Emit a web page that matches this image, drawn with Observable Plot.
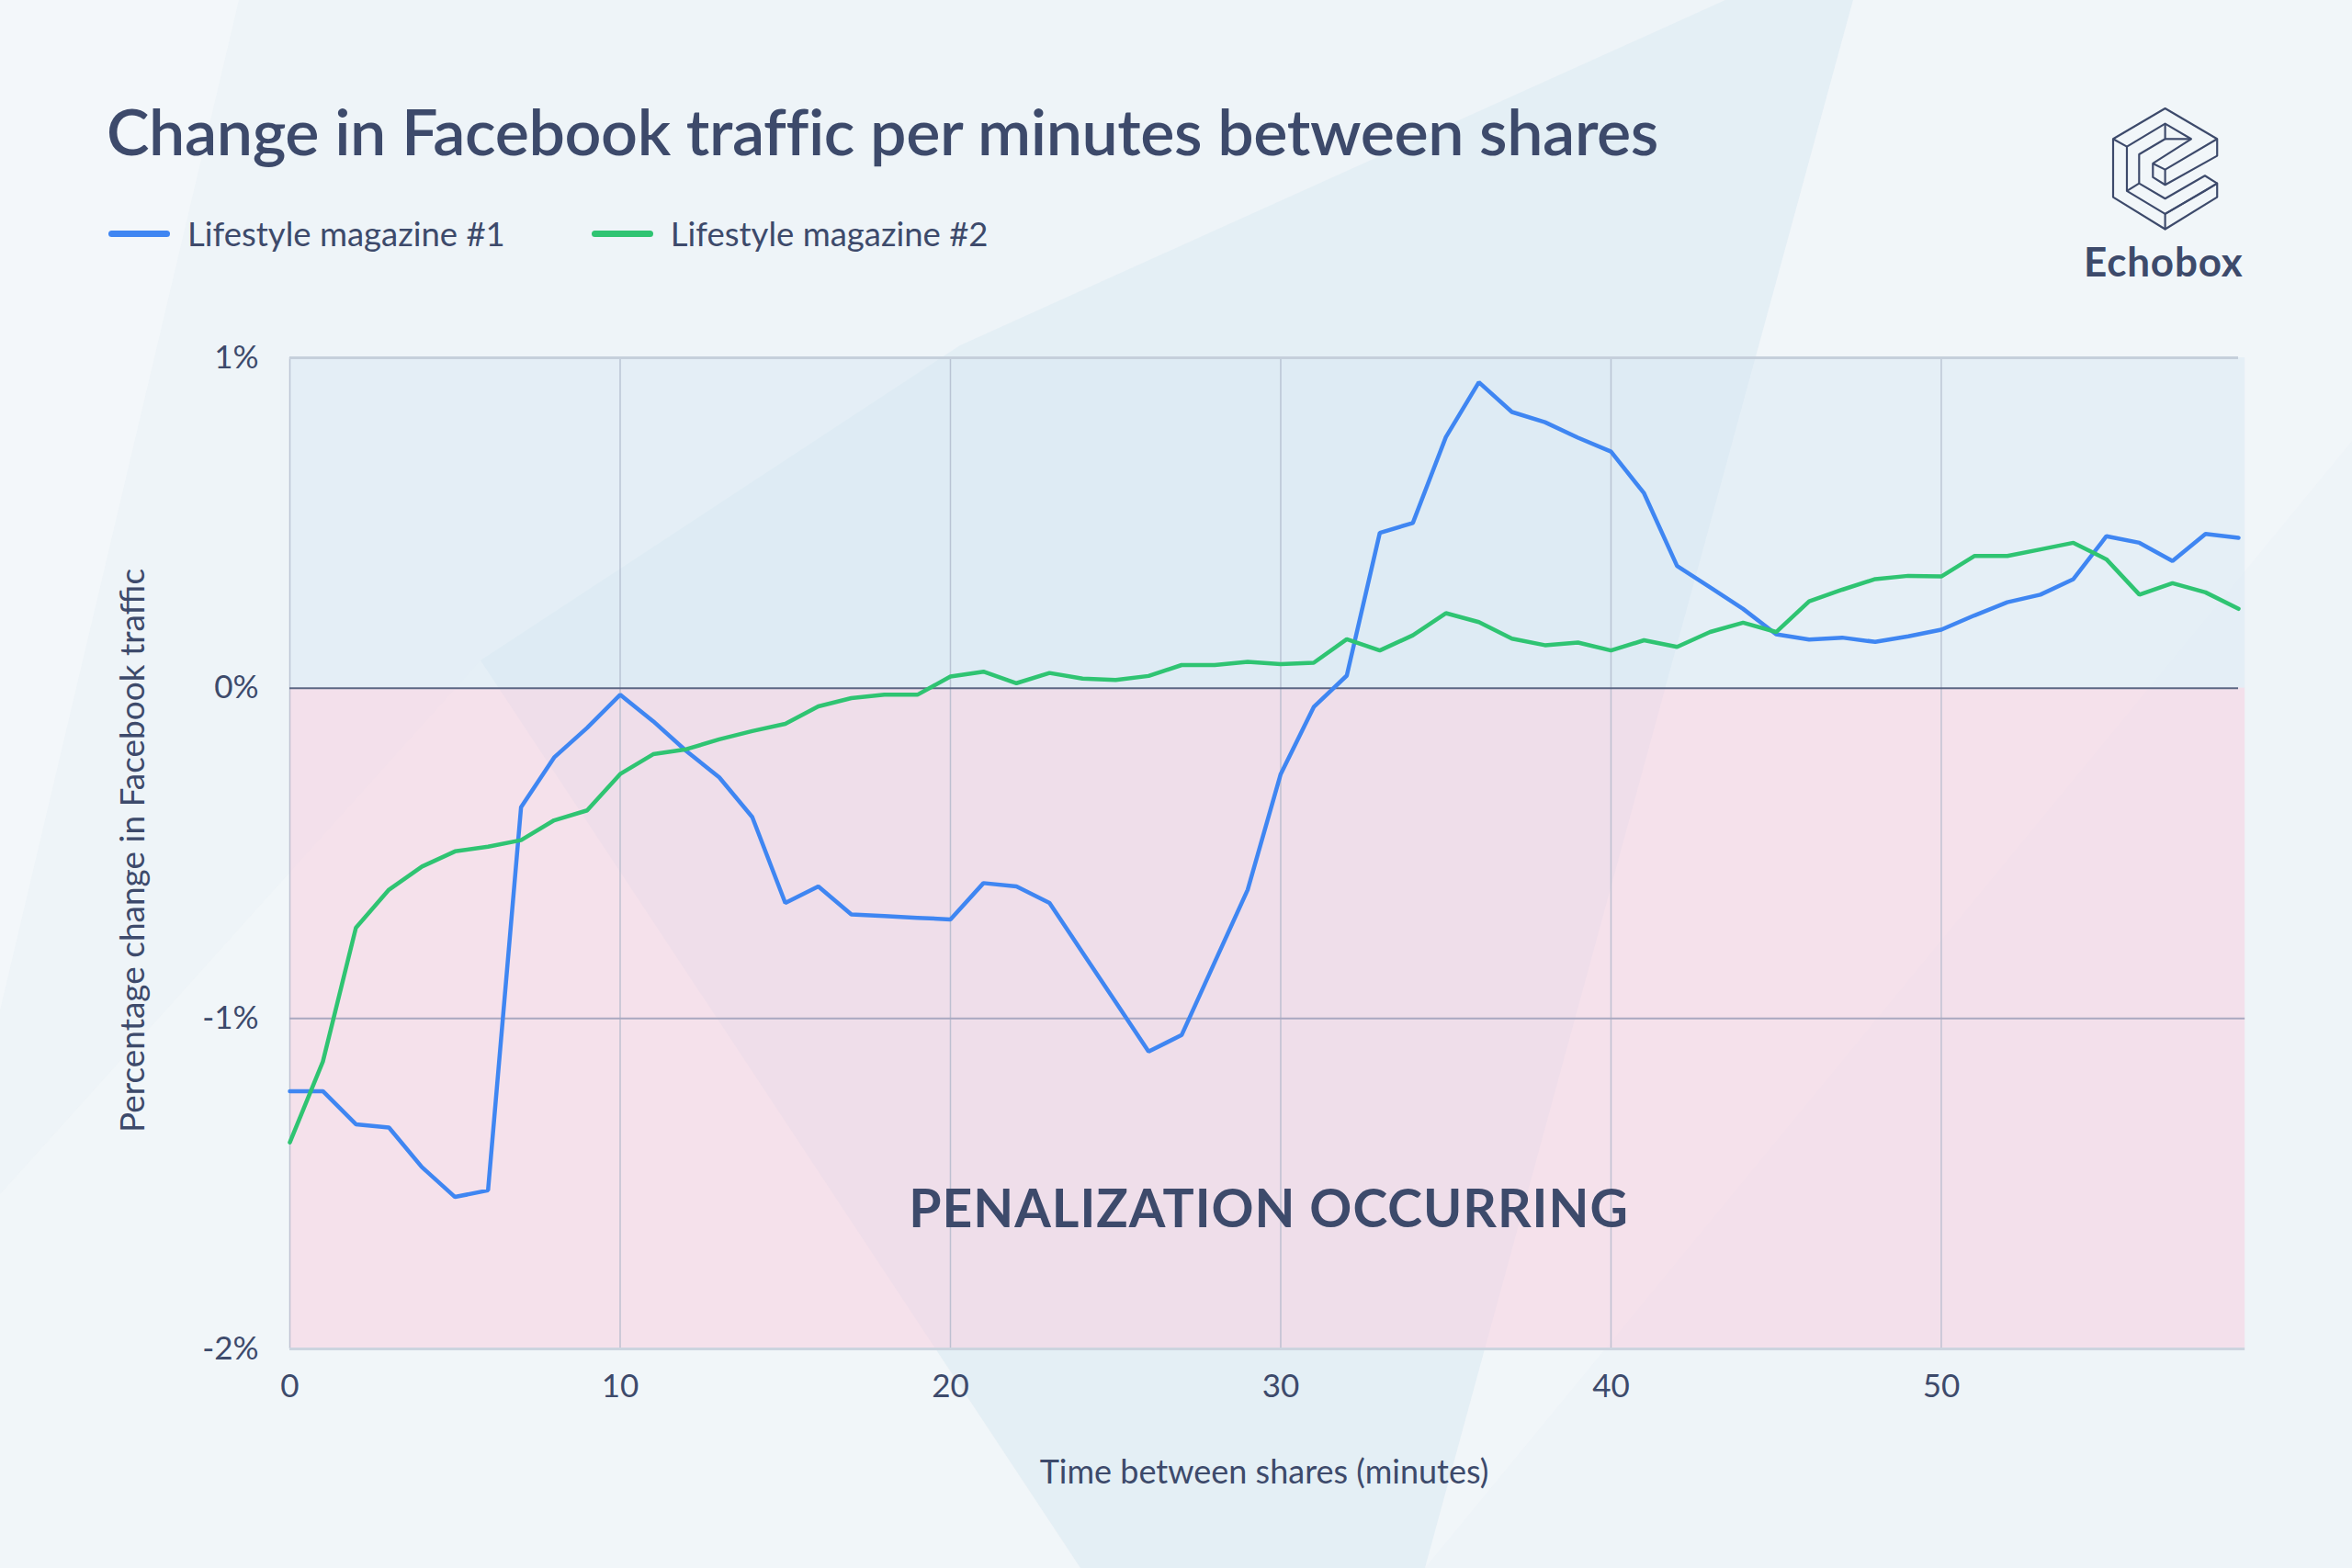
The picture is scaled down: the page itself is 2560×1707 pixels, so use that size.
<!DOCTYPE html>
<html>
<head>
<meta charset="utf-8">
<script src="https://cdn.jsdelivr.net/npm/d3@7"></script>
<script src="https://cdn.jsdelivr.net/npm/@observablehq/plot@0.6"></script>
<style>
  html, body { margin: 0; padding: 0; }
  body { width: 2560px; height: 1707px; position: relative; overflow: hidden; background: #eef4f8; font-family: Lato, "Open Sans", sans-serif; color: #3d4a6b; }
  #bg { position: absolute; left: 0; top: 0; }
  #title { position: absolute; left: 116px; top: 100px; font-size: 70px; font-weight: 600; letter-spacing: -0.4px; white-space: nowrap; }
  #legend { position: absolute; left: 118px; top: 232px; font-size: 36.5px; display: flex; align-items: center; }
  .item { display: flex; align-items: center; margin-right: 94px; }
  .sw { width: 67px; height: 7px; border-radius: 3.5px; margin-right: 19px; }
  #logo { position: absolute; left: 2250px; top: 106px; }
  #brand { position: absolute; left: 2268px; top: 258px; font-size: 44px; font-weight: 700; letter-spacing: 0.8px; }
  #chart { position: absolute; left: 0; top: 340px; }
  .pen { letter-spacing: 1px; }
</style>
</head>
<body>
<svg id="bg" width="2560" height="1707">
  <rect width="2560" height="1707" fill="#eef4f8"/>
  <polygon points="0,0 260,0 0,1100" fill="#f4f8fa" opacity="0.8"/>
  <polygon points="1045,376 1878,0 2017,0 1551,1707 1176,1707 523,719" fill="#dfecf4" opacity="0.7"/>
  <polygon points="2017,0 2560,0 2560,480 1551,1707" fill="#f3f7fa" opacity="0.6"/>
  <polygon points="0,1300 523,719 1176,1707 0,1707" fill="#f3f7fa" opacity="0.5"/>
</svg>

<div id="title">Change in Facebook traffic per minutes between shares</div>
<div id="legend"></div>

<svg id="logo" width="200" height="160" viewBox="0 0 200 160">
  <g fill="none" stroke="#3d4a6b" stroke-width="6.5" stroke-linejoin="round" transform="translate(50,12) scale(0.333)">
    <path d="M0,100 L170,0 L340,100 L340,155 L170,250 L130,225 L130,180 L255,100 L170,50 L45,125 L45,270 L170,345 L300,270 L340,245 L340,290 L170,395 L0,290 Z"/>
    <path d="M0,100 L45,125"/>
    <path d="M170,50 L170,100 L85,150 L85,245 L170,295 L300,220 L340,245"/>
    <path d="M170,100 L255,100"/>
    <path d="M130,180 L170,200 L340,100"/>
    <path d="M170,200 L170,250"/>
    <path d="M45,270 L85,245"/>
    <path d="M170,345 L170,395"/>
    <path d="M170,345 L340,245"/>
  </g>
</svg>
<div id="brand">Echobox</div>

<div id="chart"></div>

<script>
// ---- data ----
const minutes = [0,1,2,3,4,5,6,7,8,9,10,11,12,13,14,15,16,17,18,19,20,21,22,23,24,25,26,27,28,29,30,31,32,33,34,35,36,37,38,39,40,41,42,43,44,45,46,47,48,49,50,51,52,53,54,55,56,57,58,59];
const magazine1 = [-1.22,-1.22,-1.32,-1.33,-1.45,-1.54,-1.52,-0.36,-0.21,-0.12,-0.02,-0.10,-0.19,-0.27,-0.39,-0.65,-0.60,-0.685,-0.69,-0.695,-0.70,-0.59,-0.60,-0.65,-0.80,-0.95,-1.10,-1.05,-0.83,-0.61,-0.26,-0.057,0.038,0.47,0.50,0.76,0.926,0.836,0.805,0.758,0.716,0.59,0.37,0.305,0.24,0.163,0.147,0.153,0.14,0.157,0.177,0.22,0.26,0.283,0.33,0.46,0.44,0.385,0.467,0.455];
const magazine2 = [-1.375,-1.13,-0.725,-0.61,-0.54,-0.494,-0.48,-0.46,-0.40,-0.37,-0.26,-0.20,-0.185,-0.155,-0.13,-0.108,-0.055,-0.03,-0.02,-0.02,0.035,0.05,0.015,0.046,0.029,0.025,0.037,0.07,0.07,0.08,0.073,0.077,0.148,0.114,0.16,0.227,0.20,0.15,0.13,0.138,0.114,0.145,0.125,0.17,0.198,0.17,0.263,0.298,0.33,0.34,0.338,0.40,0.40,0.42,0.44,0.39,0.283,0.318,0.29,0.24];
const seriesNames = ["Lifestyle magazine #1", "Lifestyle magazine #2"];
const seriesColors = ["#3f86f2", "#2fc472"];
const yTicks = [1, 0, -1, -2];
const xTicks = [0, 10, 20, 30, 40, 50];
const annotation = {x: 29.64, y: -1.58, text: "PENALIZATION OCCURRING"};
const xLabel = "Time between shares (minutes)";
const yLabel = "Percentage change in Facebook traffic";

// ---- legend ----
const legend = document.getElementById("legend");
seriesNames.forEach((name, i) => {
  const item = document.createElement("div");
  item.className = "item";
  item.innerHTML = `<span class="sw" style="background:${seriesColors[i]}"></span><span>${name}</span>`;
  legend.appendChild(item);
});

// ---- chart ----
const textColor = "#3d4a6b";
const chart = Plot.plot({
  width: 2560,
  height: 1367,
  marginTop: 49,
  marginBottom: 239,
  marginLeft: 315,
  marginRight: 124,
  style: {background: "transparent", fontFamily: "Lato, 'Open Sans', sans-serif", fontSize: "35px", color: textColor, overflow: "visible"},
  x: {domain: [0, 59]},
  y: {domain: [-2, 1]},
  marks: [
    Plot.rectY([0], {x1: 0, x2: 59.2, y1: 0, y2: 1, fill: "#d4e7f2", fillOpacity: 0.4}),
    Plot.rectY([0], {x1: 0, x2: 59.2, y1: -2, y2: 0, fill: "#f7cfe0", fillOpacity: 0.55}),
    Plot.ruleX(xTicks, {y1: -2, y2: 1, stroke: "#aab3c6", strokeOpacity: 0.7, strokeWidth: 1.5}),
    Plot.ruleY([1], {x1: 0, x2: 59, stroke: "#c5cfdb", strokeWidth: 3}),
    Plot.ruleY([-2], {x1: 0, x2: 59.2, stroke: "#ccd4df", strokeWidth: 3}),
    Plot.ruleY([-1], {x1: 0, x2: 59.2, stroke: "#a9a8c0", strokeWidth: 2}),
    Plot.ruleY([0], {x1: 0, x2: 59, stroke: "#5b6784", strokeWidth: 2}),
    Plot.axisY({ticks: yTicks, tickFormat: d => d + "%", tickSize: 0, tickPadding: 34, label: null, fill: textColor, fontSize: 35}),
    Plot.axisX({ticks: xTicks, tickFormat: d => String(d), tickSize: 0, tickPadding: 28, label: null, fill: textColor, fontSize: 35}),
    Plot.text([xLabel], {frameAnchor: "bottom", dy: 146, text: d => d, fill: textColor, fontSize: 36}),
    Plot.text([yLabel], {frameAnchor: "left", textAnchor: "middle", dx: -170, dy: -3, rotate: -90, text: d => d, fill: textColor, fontSize: 37}),
    Plot.text([annotation], {x: "x", y: "y", text: "text", fill: textColor, fontSize: 57, fontWeight: 700, className: "pen"}),
    Plot.line(minutes, {x: minutes, y: magazine1, stroke: seriesColors[0], strokeWidth: 4.5, strokeLinejoin: "miter"}),
    Plot.line(minutes, {x: minutes, y: magazine2, stroke: seriesColors[1], strokeWidth: 4.5, strokeLinejoin: "miter"})
  ]
});
document.getElementById("chart").appendChild(chart);
</script>
</body>
</html>
